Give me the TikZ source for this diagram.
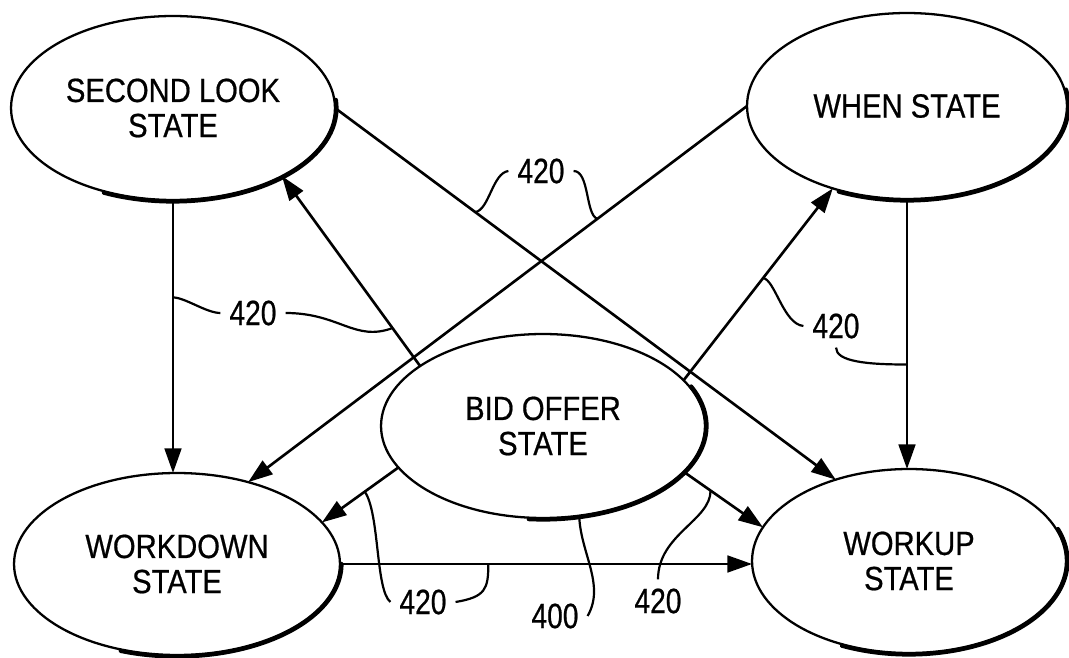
\documentclass[tikz,border=0pt]{standalone}
\usepackage{fontspec}
\newfontfamily\statefont{Liberation Sans}[FakeStretch=0.87,FakeBold=0.6]
\newfontfamily\labfont{Liberation Sans}[FakeStretch=0.8,FakeBold=0.6]
\usetikzlibrary{shapes.geometric,arrows.meta,calc}
\newcommand\ellrimarc[5]{\draw[ellrim] ($(#1.center)+(#4:#2 and #3)$) arc[start angle=#4, end angle=#5, x radius=#2, y radius=#3];}
\tikzset{
  state/.style={ellipse, draw, line width=1.3pt, inner sep=0pt, outer sep=0pt, align=center,
    font=\statefont\fontsize{19.1}{20}\selectfont},
  ellrim/.style={line width=2.4pt, line cap=round},
  conn/.style={line width=1.5pt, -{Triangle[length=14pt,width=9.5pt]}},
  lab/.style={inner sep=5pt, font=\labfont\fontsize{20}{20}\selectfont},
  leader/.style={line width=1.25pt}
}
\begin{document}
\begin{tikzpicture}[x=0.02cm,y=-0.02cm]
\useasboundingbox[fill=white] (0,0) rectangle (1069,658);
% states
\node[state, minimum width=6.48cm, minimum height=3.68cm] (SL) at (173,108) {SECOND LOOK\\STATE};
\node[state, minimum width=6.40cm, minimum height=3.72cm] (WH) at (907,106) {WHEN STATE};
\node[state, minimum width=6.48cm, minimum height=3.68cm] (BO) at (543,426) {BID OFFER\\STATE};
\node[state, minimum width=6.52cm, minimum height=3.64cm] (WD) at (177,564) {WORKDOWN\\STATE};
\node[state, minimum width=6.28cm, minimum height=3.68cm] (WU) at (909,561) {WORKUP\\STATE};
% heavier lower-right rims
\ellrimarc{SL}{3.27cm}{1.87cm}{5}{-115}
\ellrimarc{WH}{3.23cm}{1.89cm}{10}{-115}
\ellrimarc{BO}{3.27cm}{1.87cm}{25}{-95}
\ellrimarc{WD}{3.29cm}{1.85cm}{0}{-110}
\ellrimarc{WU}{3.17cm}{1.87cm}{20}{-115}
% transitions
\draw[conn] (SL.south) -- coordinate[pos=0.357] (c1) (SL.south |- WD.north);
\draw[conn] (SL.0) -- coordinate[pos=0.28] (c2) (WU.132);
\draw[conn] (WH.180) -- coordinate[pos=0.30] (c3) (WD.49);
\draw[conn] (BO.154) -- coordinate[pos=0.2] (c4) (SL.-32);
\draw[conn] (BO.18) -- coordinate[pos=0.533] (c5) (WH.228);
\draw[conn] (WH.south) -- coordinate[pos=0.613] (c6) (WH.south |- WU.north);
\draw[conn] (BO.196) -- coordinate[pos=0.44] (c7) (WD.16);
\draw[conn] (BO.-18) -- coordinate[pos=0.34] (c8) (WU.167);
\draw[conn] (WD.east) -- coordinate[pos=0.36] (c9) (WD.east -| WU.west);
% labels
\node[lab] (L1) at (253,313) {420};
\node[lab] (L2) at (541,171) {420};
\node[lab] (L3) at (836,326) {420};
\node[lab] (L4) at (423,602) {420};
\node[lab] (L5) at (555,616) {400};
\node[lab] (L6) at (658,601) {420};
% leaders
\draw[leader] (c1) .. controls +(12,0) and +(-14,0) .. (L1.west);
\draw[leader] (L1.east) .. controls +(54,0) and +(-38,14) .. (c4);
\draw[leader] (c2) .. controls +(14,-2) and +(-16,2) .. (L2.west);
\draw[leader] (L2.east) .. controls +(16,0) and +(-12,-4) .. (c3);
\draw[leader] (c5) .. controls +(12,2) and +(-20,-2) .. (L3.west);
\draw[leader] (L3.south) .. controls +(0,14) and +(-40,0) .. (c6);
\draw[leader] (c7) .. controls +(15,22) and +(-15,-12) .. (L4.west);
\draw[leader] (L4.east) .. controls +(30,-5) and +(0,25) .. (c9);
\draw[leader] (L5.east) .. controls +(18,-31) and +(1,37) .. (BO.-68);
\draw[leader] (L6.north) .. controls +(0,-45) and +(0,30) .. (c8);
\end{tikzpicture}
\end{document}
